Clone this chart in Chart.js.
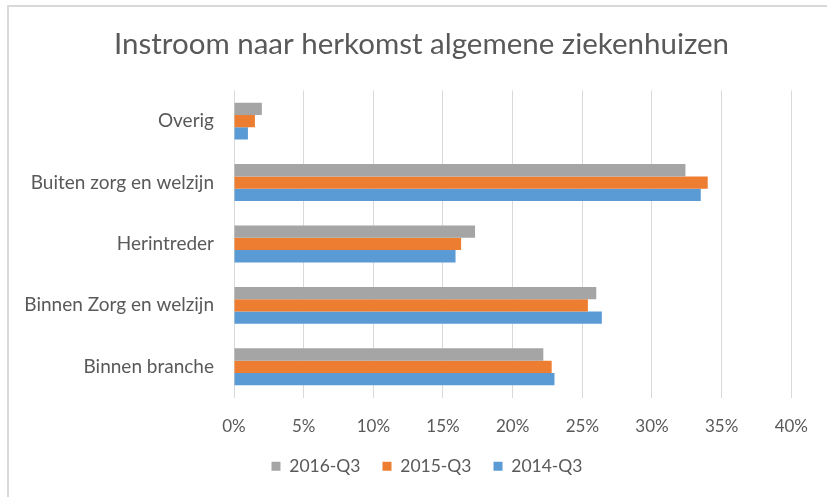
<!DOCTYPE html>
<html>
<head>
<meta charset="utf-8">
<script src="https://cdn.jsdelivr.net/npm/chart.js@4.4.1/dist/chart.umd.min.js"></script>
<style>
  html, body { margin: 0; padding: 0; background: #fff; }
  #wrap { position: relative; width: 827px; height: 497px; overflow: hidden; }
  #frame { position: absolute; left: 7px; top: 5px; width: 900px; height: 600px;
           border-left: 2px solid #d9d9d9; border-top: 2px solid #d9d9d9; box-sizing: border-box; }
  canvas { position: absolute; left: 0; top: 0; }
</style>
</head>
<body>
<div id="wrap">
  <div id="frame"></div>
  <canvas id="c" width="827" height="497"></canvas>
</div>
<script>
const categories = ["Overig", "Buiten zorg en welzijn", "Herintreder", "Binnen Zorg en welzijn", "Binnen branche"];
const seriesNames = ["2016-Q3", "2015-Q3", "2014-Q3"];
const values2016 = [2.0, 32.4, 17.3, 26.0, 22.2];
const values2015 = [1.5, 34.0, 16.3, 25.4, 22.8];
const values2014 = [1.0, 33.5, 15.9, 26.4, 23.0];
const colors = ["#A5A5A5", "#ED7D31", "#5B9BD5"];
const xTicks = [0, 5, 10, 15, 20, 25, 30, 35, 40];

const FONT = "Lato, 'Open Sans', sans-serif";
const TEXT = "#595959";

const shiftBlocks = {
  id: "shiftBlocks",
  afterLayout(chart) {
    if (chart.legend) { chart.legend.left += 60; }
    if (chart.titleBlock) { chart.titleBlock.left += 49; }
  }
};

new Chart(document.getElementById("c"), {
  type: "bar",
  data: {
    labels: categories,
    datasets: [values2016, values2015, values2014].map((v, i) => ({
      label: seriesNames[i],
      data: v,
      backgroundColor: colors[i],
      borderWidth: 0,
      categoryPercentage: 0.6,
      barPercentage: 1.0
    }))
  },
  options: {
    indexAxis: "y",
    responsive: false,
    animation: false,
    layout: { padding: { left: 0, right: 33, top: 0, bottom: 12 } },
    plugins: {
      title: {
        display: true,
        text: "Instroom naar herkomst algemene ziekenhuizen",
        color: TEXT,
        font: { family: FONT, size: 29.5, weight: "normal" },
        padding: { top: 27, bottom: 28 }
      },
      legend: {
        position: "bottom",
        labels: {
          color: TEXT,
          font: { family: FONT, size: 17.5 },
          boxWidth: 9,
          boxHeight: 9,
          padding: 22
        }
      },
      tooltip: { enabled: false }
    },
    scales: {
      x: {
        min: 0,
        max: 40,
        afterBuildTicks: (s) => { s.ticks = xTicks.map(v => ({ value: v })); },
        afterFit: (s) => { s.height = 38; },
        ticks: {
          color: TEXT,
          font: { family: FONT, size: 17 },
          padding: 19,
          callback: (v) => v + "%"
        },
        grid: { color: "#d9d9d9", lineWidth: 1, drawTicks: false },
        border: { display: false }
      },
      y: {
        afterFit: (s) => { s.width = 234; },
        ticks: {
          color: TEXT,
          font: { family: FONT, size: 19 },
          padding: 12
        },
        grid: { display: false },
        border: { display: false }
      }
    }
  },
  plugins: [shiftBlocks]
});
</script>
</body>
</html>
